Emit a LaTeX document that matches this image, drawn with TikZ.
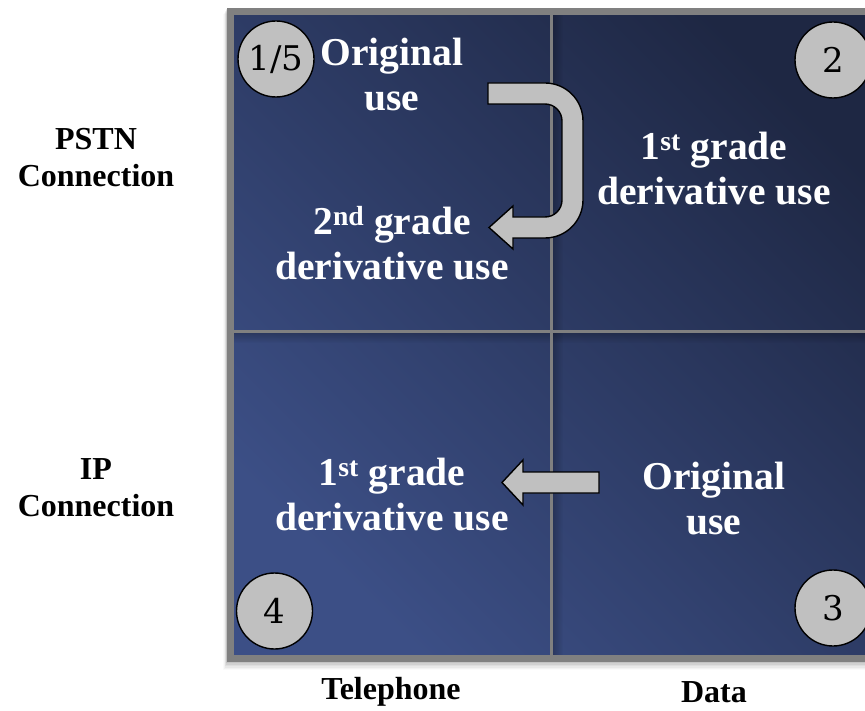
\documentclass[tikz,border=0pt]{standalone}
\usepackage{fontspec}
\usetikzlibrary{fadings}
\newfontfamily\labelfont{Liberation Serif}
\newfontfamily\badgefont{DejaVu Serif}
\definecolor{cellLight}{HTML}{3C4F86}
\definecolor{cellDark}{HTML}{1E2743}
\definecolor{frameGray}{HTML}{808080}
\definecolor{chipGray}{HTML}{C0C0C0}
\begin{document}
\begin{tikzpicture}[x=1pt,y=-1pt,
  celltext/.style={text=white, font=\labelfont\bfseries\fontsize{39.5}{45}\selectfont, align=center},
  axislabel/.style={text=black, font=\labelfont\bfseries\fontsize{32}{37}\selectfont, align=center},
  badge/.style={circle, draw=black, line width=1.4pt, fill=chipGray, minimum size=76pt,
    inner sep=0pt, font=\badgefont\fontsize{34}{34}\selectfont},
  blockarrow/.style={draw=black, line width=1.4pt, fill=chipGray, line join=miter},
  gridline/.style={draw=frameGray, line width=3.5pt}]
\useasboundingbox (0,0) rectangle (865,711);
\clip (0,0) rectangle (865,711);

% soft shadow under the matrix
\foreach \i/\o in {1/0.07,2/0.06,3/0.05,4/0.04,5/0.03,6/0.02}
  \fill[black,opacity=\o] (227-\i*0.6,8+\i) rectangle (900,662+\i*1.4);

% matrix body with a diagonal blue gradient
\shade[top color=cellDark, bottom color=cellLight, shading angle=-45]
  (230,11) rectangle (900,659);

% faint shadows cast by the dividers
\fill[black, opacity=0.22, path fading=east] (553,15) rectangle (563,655);
\fill[black, opacity=0.22, path fading=south] (234,333) rectangle (900,343);

% frame and dividers
\draw[frameGray, line width=7pt] (230.5,11.5) rectangle (900,658.5);
\draw[gridline] (551.5,11.5) -- (551.5,658.5);
\draw[gridline] (230.5,331.5) -- (900,331.5);

% numbered badges
\node[badge] (b1) at (276,59) {1/5};
\node[badge] (b2) at (833,60) {2};
\node[badge] (b3) at (833,608) {3};
\node[badge] (b4) at (274.5,611) {4};

% U-turn arrow from original use to 2nd grade derivative use
\draw[blockarrow] (488,83) -- (545,83) arc[start angle=-90, end angle=0, radius=38]
  -- (583,200) arc[start angle=0, end angle=90, radius=38]
  -- (513,238) -- (513,249) -- (489,227.5) -- (513,206) -- (513,217)
  -- (545,217) arc[start angle=90, end angle=0, radius=17]
  -- (562,121) arc[start angle=0, end angle=-90, radius=17]
  -- (488,104) -- cycle;

% straight arrow from data to telephone
\draw[blockarrow] (599,472) -- (523,472) -- (523,460) -- (502,482.5)
  -- (523,505) -- (523,493) -- (599,493) -- cycle;

% cell texts
\node[celltext] (tlA) at (392,75) {Original\\use};
\node[celltext] (tlB) at (392,243) {2\textsuperscript{nd} grade\\derivative use};
\node[celltext] (trA) at (714,168.5) {1\textsuperscript{st} grade\\derivative use};
\node[celltext] (blA) at (392,494.5) {1\textsuperscript{st} grade\\derivative use};
\node[celltext] (brA) at (714,499) {Original\\use};

% axis labels
\node[axislabel] (pstn) at (96,158) {PSTN\\Connection};
\node[axislabel] (ip) at (96,488) {IP\\Connection};
\node[axislabel] (tel) at (391,692) {Telephone};
\node[axislabel] (data) at (714,692) {Data};
\end{tikzpicture}
\end{document}
